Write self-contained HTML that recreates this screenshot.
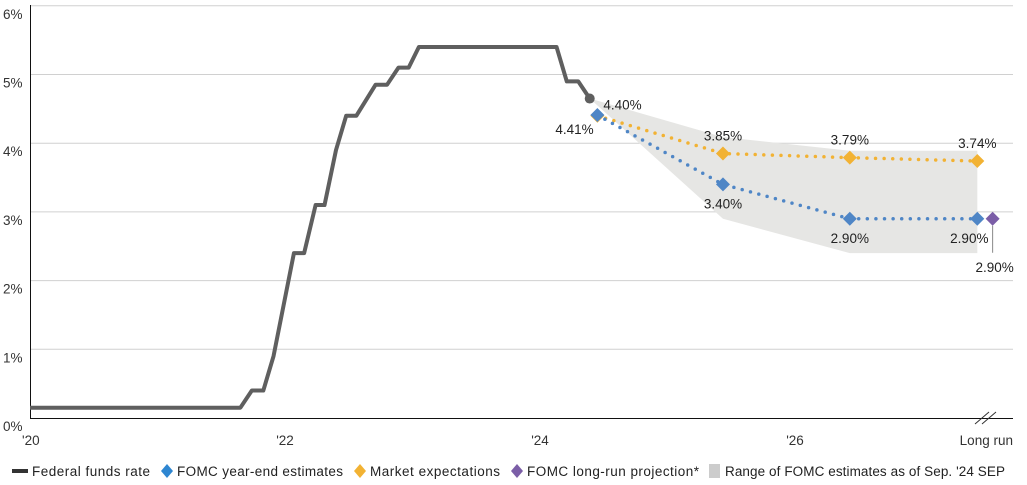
<!DOCTYPE html>
<html><head><meta charset="utf-8">
<style>
html,body{margin:0;padding:0;background:#fff;}
svg{display:block;font-family:"Liberation Sans",sans-serif;}
</style></head>
<body>
<svg id="chart" width="1027" height="485" viewBox="0 0 1027 485">
<g id="grid"></g>
<g id="band"></g>
<g id="axes"></g>
<g id="series"></g>
<g id="labels"></g>
<g id="legend">
  <rect x="12" y="469" width="16" height="4" fill="#333"/>
  <text x="32" y="476" font-size="13.5" fill="#222" textLength="118">Federal funds rate</text>
  <path d="M167 464 L173 471 L167 478 L161 471Z" fill="#2e86d1"/>
  <text x="177" y="476" font-size="13.5" fill="#222" textLength="166">FOMC year-end estimates</text>
  <path d="M360 464 L366 471 L360 478 L354 471Z" fill="#f2b233"/>
  <text x="370" y="476" font-size="13.5" fill="#222" textLength="130">Market expectations</text>
  <path d="M517 464 L523 471 L517 478 L511 471Z" fill="#7b5ea7"/>
  <text x="527" y="476" font-size="13.5" fill="#222" textLength="172">FOMC long-run projection*</text>
  <rect x="709" y="464" width="11" height="14" fill="#ccc"/>
  <text x="725" y="476" font-size="13.5" fill="#222" textLength="280">Range of FOMC estimates as of Sep. '24 SEP</text>
</g>
</svg>
<script>
const yTicks = [0,1,2,3,4,5,6];
const yTickLabels = ['0%','1%','2%','3%','4%','5%','6%'];
const xTicks = [0,2,4,6,7.43];
const xTickLabels = ["'20","'22","'24","'26","Long run"];
// Federal funds rate: [years since 2020, rate]
const ffrT = [0,1.65,1.74,1.83,1.91,2.07,2.15,2.24,2.31,2.40,2.48,2.56,2.71,2.80,2.89,2.97,3.05,4.13,4.21,4.30,4.39];
const ffrV = [0.15,0.15,0.40,0.40,0.90,2.40,2.40,3.10,3.10,3.90,4.40,4.40,4.85,4.85,5.10,5.10,5.40,5.40,4.90,4.90,4.65];
const projT = [4.45,5.435,6.43,7.43];
const fomcV = [4.41,3.40,2.90,2.90];
const marketV = [4.40,3.85,3.79,3.74];
const fomcLabels = ['4.41%','3.40%','2.90%','2.90%'];
const marketLabels = ['4.40%','3.85%','3.79%','3.74%'];
const bandT = [4.39,5.435,6.43,7.43];
const bandHigh = [4.65,4.09,3.89,3.89];
const bandLow = [4.65,2.90,2.40,2.40];
const longRunT = 7.55;
const longRunV = 2.90;
const longRunLabel = '2.90%';

const NS='http://www.w3.org/2000/svg';
const X = t => 30 + t*127.5;
const Y = v => 418 - v*68.7;
function mk(tag, attrs, parent){const e=document.createElementNS(NS,tag);for(const k in attrs)e.setAttribute(k,attrs[k]);parent.appendChild(e);return e;}
const grid=document.getElementById('grid'), axes=document.getElementById('axes'), series=document.getElementById('series'), labels=document.getElementById('labels'), band=document.getElementById('band');

yTicks.forEach((v,i)=>{
  if(v>0){const l=mk('line',{x1:30,x2:1013,y1:Y(v),y2:Y(v),stroke:'#d0d0d0','stroke-width':1},grid);
  
  }
  const t=mk('text',{x:3,y:Y(v)+13,'font-size':13.5,fill:'#333'},axes);
  t.textContent=yTickLabels[i];
  
  
});
const ya=mk('line',{x1:30.5,x2:30.5,y1:5,y2:418,stroke:'#111','stroke-width':1},axes);


const xa=mk('line',{x1:30,x2:1013,y1:418.5,y2:418.5,stroke:'#111','stroke-width':1},axes);


const br=mk('path',{d:'M975 424 L989 412 M982 424 L996 412',stroke:'#333','stroke-width':1,fill:'none'},axes);


xTicks.forEach((t,i)=>{
  const last=i==xTicks.length-1;
  const e=mk('text',{x:last?X(t)+9:X(t)+(i==0?-8:0),y:445,'font-size':13.5,fill:'#333','text-anchor':i==0?'start':'middle'},axes);
  e.textContent=xTickLabels[i];
  
  
});

// band
let d='M'+bandT.map((t,i)=>X(t)+' '+Y(bandHigh[i])).join(' L');
for(let i=bandT.length-1;i>=0;i--) d+=' L'+X(bandT[i])+' '+Y(bandLow[i]);
const bp=mk('path',{d:d+'Z',fill:'#e6e6e4'},band);



// ffr
const fl=mk('polyline',{points:ffrT.map((t,i)=>X(t)+','+Y(ffrV[i])).join(' '),fill:'none',stroke:'#5f5f5f','stroke-width':4,'stroke-linejoin':'round'},series);


const fd=mk('circle',{cx:X(ffrT[ffrT.length-1]),cy:Y(ffrV[ffrV.length-1]),r:5,fill:'#5f5f5f'},series);



function dotted(vals,color,name){
  const p=mk('polyline',{points:projT.map((t,i)=>X(t)+','+Y(vals[i])).join(' '),fill:'none',stroke:color,'stroke-width':3.5,'stroke-dasharray':'0 8.6','stroke-linecap':'round'},series);
  
  
}
function diamond(cx,cy,color,name){
  const s=7;
  const p=mk('path',{d:`M${cx} ${cy-s} L${cx+s} ${cy} L${cx} ${cy+s} L${cx-s} ${cy}Z`,fill:color},series);
  
  
}
dotted(marketV,'#f2b233','market-expectations');
dotted(fomcV,'#4f86c6','fomc-estimates');
projT.forEach((t,i)=>{diamond(X(t),Y(marketV[i]),'#f2b233','market-point');});
projT.forEach((t,i)=>{diamond(X(t),Y(fomcV[i]),'#4f86c6','fomc-point');});
diamond(X(longRunT),Y(longRunV),'#7b5ea7','fomc-long-run-point');
const ll=mk('line',{x1:X(longRunT),x2:X(longRunT),y1:Y(longRunV)+7,y2:Y(longRunV)+34,stroke:'#888','stroke-width':1},series);



function lab(x,y,txt,anchor,name){
  const e=mk('text',{x:x,y:y,'font-size':13.5,fill:'#222','text-anchor':anchor},labels);
  e.textContent=txt;
  
  
}
lab(X(projT[0])-42,Y(fomcV[0])+19,fomcLabels[0],'start','fomc-label');
lab(X(projT[0])+6,Y(marketV[0])-6,marketLabels[0],'start','market-label');
for(let i=1;i<projT.length;i++){
  lab(X(projT[i]),Y(marketV[i])-13,marketLabels[i],'middle','market-label');
  lab(X(projT[i])-(i==3?8:0),Y(fomcV[i])+24,fomcLabels[i],'middle','fomc-label');
}
lab(X(longRunT)+2,Y(longRunV)+53,longRunLabel,'middle','long-run-label');
</script>
</body></html>
